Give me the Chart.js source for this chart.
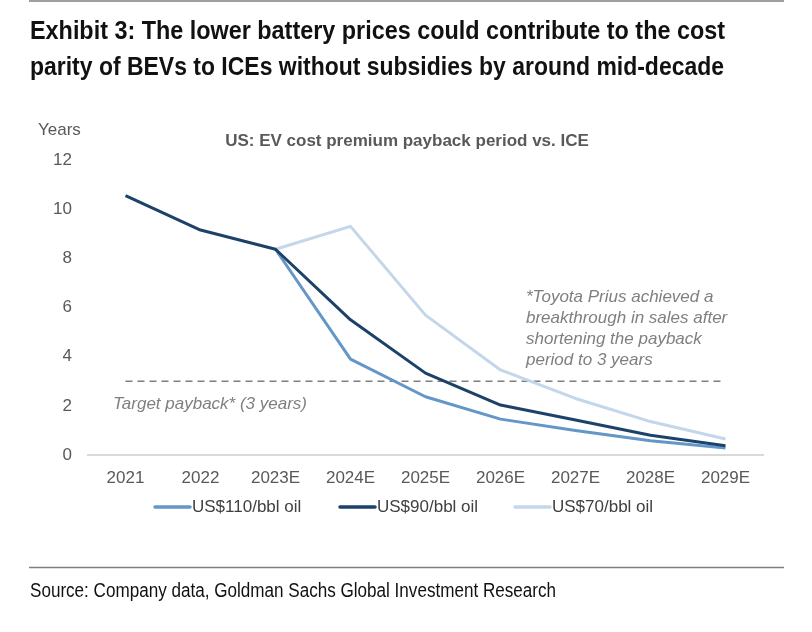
<!DOCTYPE html>
<html>
<head>
<meta charset="utf-8">
<script src="https://cdn.jsdelivr.net/npm/chart.js@4/dist/chart.umd.min.js"></script>
<style>
html,body{margin:0;padding:0;background:#fff;}
#wrap{position:relative;width:812px;height:632px;}
canvas{display:block;}
</style>
</head>
<body>
<div id="wrap"><canvas id="c" width="812" height="632"></canvas></div>
<script>
const categories = ['2021','2022','2023E','2024E','2025E','2026E','2027E','2028E','2029E'];
const oil110 = [null, null, 8.37, 3.9, 2.37, 1.46, 1.0, 0.58, 0.28];
const oil90  = [10.55, 9.15, 8.37, 5.5, 3.33, 2.03, 1.42, 0.8, 0.38];
const oil70  = [null, null, 8.37, 9.3, 5.69, 3.46, 2.3, 1.36, 0.65];
const target = [3, 3, 3, 3, 3, 3, 3, 3, 3];
const seriesNames = ['US$110/bbl oil', 'US$90/bbl oil', 'US$70/bbl oil'];
const yTicks = [0, 2, 4, 6, 8, 10, 12];

const titleLines = ['Exhibit 3: The lower battery prices could contribute to the cost',
                    'parity of BEVs to ICEs without subsidies by around mid-decade'];
const chartTitle = 'US: EV cost premium payback period vs. ICE';
const yAxisTitle = 'Years';
const targetNote = 'Target payback* (3 years)';
const priusNote = ['*Toyota Prius achieved a', 'breakthrough in sales after', 'shortening the payback', 'period to 3 years'];
const sourceText = 'Source: Company data, Goldman Sachs Global Investment Research';

const C110 = '#6497c8', C90 = '#1c4269', C70 = '#c3d6ea';
const SANS = '"Liberation Sans", Arial, sans-serif';

const decor = {
  id: 'decor',
  afterDraw(chart) {
    const ctx = chart.ctx;
    ctx.save();
    // rules
    ctx.strokeStyle = '#7f7f7f'; ctx.lineWidth = 1.5;
    ctx.beginPath(); ctx.moveTo(29, 1); ctx.lineTo(784, 1); ctx.stroke();
    ctx.beginPath(); ctx.moveTo(29, 567.5); ctx.lineTo(784, 567.5); ctx.stroke();
    // main title (condensed by horizontal scaling)
    ctx.fillStyle = '#111'; ctx.textBaseline = 'middle'; ctx.textAlign = 'left';
    ctx.font = 'bold 25px ' + SANS;
    const targetW = [695, 694];
    const ys = [32, 68];
    titleLines.forEach((t, i) => {
      const w = ctx.measureText(t).width;
      ctx.save(); ctx.translate(30, ys[i]); ctx.scale(targetW[i] / w, 1);
      ctx.fillText(t, 0, 0); ctx.restore();
    });
    // source
    ctx.font = '20px ' + SANS;
    ctx.fillStyle = '#111';
    {
      const w = ctx.measureText(sourceText).width;
      ctx.save(); ctx.translate(30, 591); ctx.scale(526 / w, 1);
      ctx.fillText(sourceText, 0, 0); ctx.restore();
    }
    // chart title
    ctx.font = 'bold 17px ' + SANS; ctx.fillStyle = '#595959'; ctx.textAlign = 'center';
    ctx.fillText(chartTitle, 407, 141);
    // y axis title
    ctx.font = '17px ' + SANS; ctx.textAlign = 'left';
    ctx.fillText(yAxisTitle, 38, 130);
    // annotations
    ctx.font = 'italic 17px ' + SANS; ctx.fillStyle = '#7f7f7f';
    ctx.fillText(targetNote, 113, 404);
    priusNote.forEach((t, i) => ctx.fillText(t, 526, 297 + i * 21));
    // legend
    const legendItems = [[seriesNames[0], C110, 155], [seriesNames[1], C90, 340], [seriesNames[2], C70, 515]];
    ctx.font = '17px ' + SANS;
    legendItems.forEach(([label, col, lx]) => {
      ctx.strokeStyle = col; ctx.lineWidth = 3.5; ctx.lineCap = 'round';
      ctx.beginPath(); ctx.moveTo(lx, 507); ctx.lineTo(lx + 35, 507); ctx.stroke();
      ctx.fillStyle = '#404040';
      ctx.fillText(label, lx + 37, 507);
    });
    ctx.restore();
  }
};

new Chart(document.getElementById('c'), {
  type: 'line',
  data: {
    labels: categories,
    datasets: [
      { label: seriesNames[0], data: oil110, borderColor: C110, borderWidth: 3, order: 1 },
      { label: seriesNames[1], data: oil90, borderColor: C90, borderWidth: 3, order: 0 },
      { label: seriesNames[2], data: oil70, borderColor: C70, borderWidth: 3, order: 2 },
      { label: 'Target', data: target, borderColor: '#7f7f7f', borderWidth: 1.5, borderDash: [7, 5], order: 3 }
    ]
  },
  options: {
    responsive: false,
    animation: false,
    devicePixelRatio: 1,
    layout: { padding: { left: 0, top: 160, right: 49, bottom: 137 } },
    elements: { point: { radius: 0 }, line: { tension: 0, borderJoinStyle: 'round', borderCapStyle: 'butt' } },
    plugins: { legend: { display: false }, tooltip: { enabled: false } },
    scales: {
      x: {
        offset: true,
        grid: { display: false, drawTicks: false },
        border: { display: true, color: '#d9d9d9', width: 2 },
        ticks: { color: '#595959', font: { family: SANS, size: 17 }, padding: 13, maxRotation: 0, autoSkip: false },
        afterFit(s) { s.height = 40; }
      },
      y: {
        min: 0, max: 12,
        grid: { display: false, drawTicks: false },
        border: { display: false },
        afterBuildTicks(s) { s.ticks = yTicks.map(v => ({ value: v })); },
        ticks: { color: '#595959', font: { family: SANS, size: 17 }, padding: 16 },
        afterFit(s) { s.width = 88; }
      }
    }
  },
  plugins: [decor]
});
</script>
</body>
</html>
